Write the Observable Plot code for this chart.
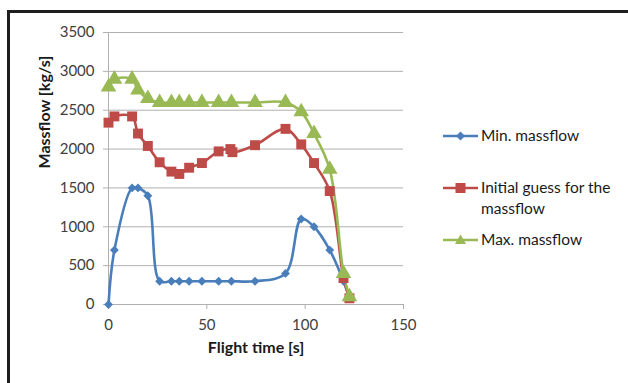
<!DOCTYPE html>
<html>
<head>
<meta charset="utf-8">
<script src="https://cdn.jsdelivr.net/npm/d3@7"></script>
<script src="https://cdn.jsdelivr.net/npm/@observablehq/plot@0.6"></script>
<style>
  html, body { margin: 0; padding: 0; background: #fff; }
  #wrap { position: relative; width: 628px; height: 383px; overflow: hidden; font-family: Lato, "Open Sans", sans-serif; }
  .bt { position: absolute; left: 7px; top: 10px; width: 621px; height: 3px; background: #1e1e1e; }
  .bl { position: absolute; left: 7px; top: 10px; width: 3px; height: 373px; background: #1e1e1e; }
  .leg { position: absolute; left: 443px; font-size: 15.5px; color: #1a1a1a; line-height: 21px; }
  .leg svg { position: absolute; left: 0; top: 0; }
  .leg span { position: absolute; left: 38px; top: 0; white-space: nowrap; }
</style>
</head>
<body>
<div id="wrap"></div>
<script>
const time = [0, 3, 12, 15, 20, 26, 32, 36, 41, 47.5, 56, 62.5, 74.5, 90, 98, 104.5, 112.5, 119.5, 122.5];
const minFlow = [0, 700, 1500, 1500, 1400, 300, 300, 300, 300, 300, 300, 300, 300, 400, 1100, 1000, 700, 300, 80];
const initTime = [0, 3, 12, 15, 20, 26, 32, 36, 41, 47.5, 56, 62, 63, 74.5, 90, 98, 104.5, 112.5, 119.5, 122.5];
const initFlow = [2340, 2420, 2420, 2200, 2040, 1830, 1710, 1680, 1760, 1820, 1970, 2000, 1960, 2050, 2260, 2060, 1820, 1460, 340, 80];
const maxFlow = [2800, 2900, 2900, 2760, 2650, 2600, 2600, 2600, 2600, 2600, 2600, 2600, 2600, 2600, 2480, 2200, 1740, 400, 100];
const xTicks = [0, 50, 100, 150];
const yTicks = [0, 500, 1000, 1500, 2000, 2500, 3000, 3500];
const seriesNames = ["Min. massflow", "Initial guess for the\nmassflow", "Max. massflow"];
const colors = ["#4a7ebb", "#be4b48", "#98b954"];

const minData = time.map((t, i) => ({t, v: minFlow[i]}));
const initData = initTime.map((t, i) => ({t, v: initFlow[i]}));
const maxData = time.map((t, i) => ({t, v: maxFlow[i]}));

const gridColor = "#b0b0b0";
const plot = Plot.plot({
  width: 628, height: 383,
  marginLeft: 108, marginRight: 225, marginTop: 32, marginBottom: 79,
  style: { fontFamily: "Lato, 'Open Sans', sans-serif", background: "transparent", overflow: "visible" },
  x: { domain: [0, 150] },
  y: { domain: [0, 3500] },
  marks: [
    Plot.gridY(yTicks.filter(d => d > 0), { stroke: gridColor, strokeOpacity: 1, strokeWidth: 1 }),
    Plot.axisY({ ticks: yTicks, tickFormat: d => String(d), tickSize: 5, tickPadding: 9, stroke: gridColor, strokeOpacity: 1, fill: "#404040", fontSize: 15, label: null }),
    Plot.axisX({ ticks: xTicks, tickFormat: d => String(d), tickSize: 5, tickPadding: 10, stroke: gridColor, strokeOpacity: 1, fill: "#404040", fontSize: 15, label: null }),
    Plot.ruleX([0], { y1: 0, y2: 3500, stroke: gridColor }),
    Plot.ruleY([0], { stroke: gridColor }),
    Plot.line(minData, { x: "t", y: "v", stroke: colors[0], strokeWidth: 2.6, curve: "catmull-rom" }),
    Plot.line(initData, { x: "t", y: "v", stroke: colors[1], strokeWidth: 2.6, curve: "catmull-rom" }),
    Plot.line(maxData, { x: "t", y: "v", stroke: colors[2], strokeWidth: 2.6, curve: "catmull-rom" }),
    Plot.dot(minData, { x: "t", y: "v", symbol: "diamond2", r: 4, fill: colors[0] }),
    Plot.dot(initData, { x: "t", y: "v", symbol: "square", r: 5.6, fill: colors[1] }),
    Plot.dot(maxData, { x: "t", y: "v", symbol: "triangle", r: 5.8, fill: colors[2] }),
    Plot.text(["Flight time [s]"], { frameAnchor: "bottom", dy: 48, fontWeight: "bold", fontSize: 16, fill: "#1a1a1a" }),
    Plot.text(["Massflow [kg/s]"], { frameAnchor: "left", dx: -64, rotate: -90, fontWeight: "bold", fontSize: 16, fill: "#1a1a1a" })
  ]
});
const wrap = document.getElementById("wrap");
wrap.appendChild(plot);
wrap.insertAdjacentHTML("beforeend", '<div class="bt"></div><div class="bl"></div>');

const legTops = [125, 177, 229];
const markerSvgs = [
  '<polygon points="17.5,6.5 22,11 17.5,15.5 13,11" fill="' + colors[0] + '"/>',
  '<rect x="12.5" y="6" width="10" height="10" fill="' + colors[1] + '"/>',
  '<polygon points="17.5,5.5 23,15 12,15" fill="' + colors[2] + '"/>'
];
seriesNames.forEach((name, i) => {
  const d = document.createElement("div");
  d.className = "leg";
  d.style.top = legTops[i] + "px";
  d.innerHTML = '<svg width="36" height="22"><line x1="0" x2="35" y1="11" y2="11" stroke="' + colors[i] + '" stroke-width="2.6"/>' + markerSvgs[i] + '</svg><span>' + name.replace("\n", "<br>") + '</span>';
  wrap.appendChild(d);
});
</script>
</body>
</html>
